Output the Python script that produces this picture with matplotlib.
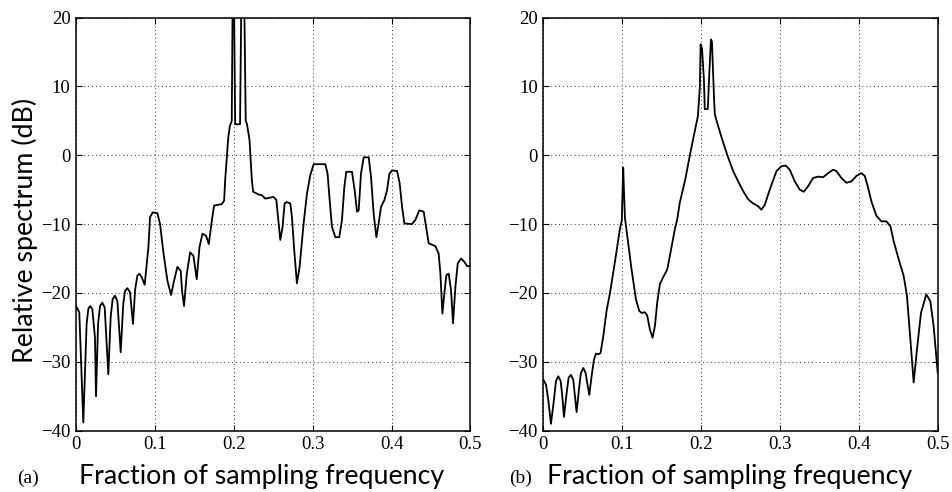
import matplotlib
matplotlib.use("Agg")
import matplotlib.pyplot as plt

# panel (a) spectrum (peaks at 0.2 / 0.21 clipped above 20 dB)
freq_a = [0.0, 0.0042, 0.0093, 0.0135, 0.0157, 0.0178, 0.0207, 0.0241, 0.0254, 0.028,
          0.0305, 0.0334, 0.0364, 0.041, 0.044, 0.0465, 0.0495, 0.0525, 0.0567, 0.060,
          0.0622, 0.0651, 0.0685, 0.0723, 0.075, 0.0778, 0.0804, 0.0833, 0.0871, 0.0918,
          0.0939, 0.0973, 0.1032, 0.1066, 0.1108, 0.1159, 0.1206, 0.1244, 0.1286, 0.1328,
          0.1345, 0.137, 0.1404, 0.1447, 0.1489, 0.151, 0.1531, 0.1565, 0.1603, 0.165,
          0.1684, 0.1722, 0.1751, 0.1849, 0.1878, 0.1891, 0.193, 0.195, 0.1975, 0.1985,
          0.2005, 0.2018, 0.208, 0.2095, 0.2135, 0.2152, 0.2166, 0.2187, 0.22, 0.223,
          0.2246, 0.2315, 0.2357, 0.24, 0.2442, 0.2505, 0.254, 0.2569, 0.259, 0.2619,
          0.2645, 0.2674, 0.2717, 0.2738, 0.2767, 0.2801, 0.2835, 0.2886, 0.2928, 0.297,
          0.3013, 0.3161, 0.319, 0.3216, 0.3245, 0.3288, 0.3338, 0.3372, 0.3402, 0.3427,
          0.3499, 0.3533, 0.3563, 0.3584, 0.3613, 0.3647, 0.3711, 0.374, 0.3774, 0.3808,
          0.3837, 0.3867, 0.391, 0.3943, 0.3973, 0.4007, 0.4071, 0.4104, 0.4134, 0.4163,
          0.426, 0.4302, 0.4353, 0.4408, 0.4438, 0.4472, 0.4556, 0.4598, 0.462, 0.4645,
          0.4674, 0.4696, 0.4725, 0.4755, 0.478, 0.481, 0.484, 0.4882, 0.4925, 0.4958, 0.5]
spec_a = [-21.9, -22.8, -38.8, -24.5, -22.3, -21.9, -22.3, -26.5, -35.0, -24.5,
          -21.9, -21.4, -22.1, -31.8, -23.5, -20.9, -20.4, -21.2, -28.6, -21.5,
          -19.7, -19.3, -19.9, -24.5, -19.5, -17.5, -17.2, -17.7, -18.8, -13.4,
          -9.0, -8.3, -8.4, -10.0, -14.1, -18.2, -20.3, -18.2, -16.2, -16.8,
          -19.7, -21.9, -17.3, -14.1, -14.6, -16.3, -18.0, -13.4, -11.4, -11.7,
          -12.9, -9.5, -7.3, -7.1, -6.6, -3.7, 2.5, 4.2, 5.0, 21.0,
          21.0, 4.5, 4.5, 21.0, 21.0, 5.0, 4.6, 3.2, 2.2, -3.6,
          -5.3, -5.7, -5.8, -6.3, -6.2, -6.05, -6.5, -9.9, -12.3, -10.4,
          -7.0, -6.8, -7.0, -9.0, -13.8, -18.6, -16.2, -9.9, -5.6, -2.9,
          -1.3, -1.3, -2.7, -6.5, -10.4, -11.9, -11.9, -9.4, -4.6, -2.4,
          -2.4, -5.1, -8.2, -8.0, -2.7, -0.3, -0.3, -3.1, -8.5, -11.9,
          -9.9, -7.5, -6.5, -5.1, -2.7, -2.2, -2.3, -4.1, -7.5, -9.9,
          -10.0, -9.4, -8.0, -8.2, -10.4, -12.8, -13.2, -14.3, -17.2, -23.0,
          -19.6, -17.4, -17.2, -19.6, -24.4, -19.1, -15.7, -15.0, -15.5, -16.1, -16.1]

# panel (b) spectrum
freq_b = [0.0, 0.0034, 0.0063, 0.0097, 0.0135, 0.016, 0.019, 0.022, 0.0241, 0.0262,
          0.0296, 0.0321, 0.035, 0.038, 0.0401, 0.0422, 0.0452, 0.0477, 0.0507, 0.0536,
          0.0557, 0.0583, 0.0612, 0.0642, 0.0667, 0.070, 0.0726, 0.076, 0.0802, 0.0845,
          0.0887, 0.0929, 0.0971, 0.0995, 0.1005, 0.1013, 0.1022, 0.1035, 0.1064, 0.1119,
          0.1174, 0.1216, 0.1246, 0.1288, 0.1318, 0.1351, 0.1385, 0.1415, 0.1444, 0.1478,
          0.1529, 0.1571, 0.1613, 0.1668, 0.1698, 0.173, 0.18, 0.1858, 0.192, 0.196,
          0.1985, 0.1994, 0.2012, 0.2036, 0.2047, 0.2085, 0.2105, 0.2125, 0.2138, 0.2165,
          0.2175, 0.2217, 0.2281, 0.2344, 0.2407, 0.247, 0.2533, 0.2597, 0.266, 0.2723,
          0.2765, 0.2808, 0.285, 0.2892, 0.2956, 0.3019, 0.3074, 0.3124, 0.3188, 0.3251,
          0.3302, 0.3357, 0.342, 0.3484, 0.3547, 0.361, 0.3674, 0.3716, 0.3779, 0.3842,
          0.3906, 0.3969, 0.4033, 0.4075, 0.4117, 0.4159, 0.4223, 0.4286, 0.435, 0.44,
          0.4442, 0.4505, 0.4568, 0.461, 0.4653, 0.4695, 0.4737, 0.4788, 0.4855, 0.4906,
          0.4948, 0.5]
spec_b = [-32.6, -33.3, -35.5, -39.0, -35.5, -32.8, -32.1, -32.8, -35.0, -38.0,
          -34.5, -32.3, -31.9, -32.6, -35.0, -37.3, -34.0, -31.6, -30.9, -31.6,
          -33.1, -34.8, -32.1, -29.7, -28.8, -28.9, -28.7, -26.3, -22.6, -20.0,
          -17.0, -13.9, -10.7, -9.5, -5.0, -1.8, -5.0, -9.1, -11.7, -16.6,
          -20.9, -22.6, -22.9, -22.8, -23.3, -25.3, -26.5, -24.8, -21.4, -18.7,
          -17.5, -16.6, -14.1, -10.7, -9.3, -6.9, -3.5, 0.0, 3.5, 5.7,
          10.0, 16.1, 15.5, 11.0, 6.7, 6.7, 12.0, 16.8, 16.5, 8.0,
          5.9, 4.2, 1.8, -0.35, -2.3, -3.8, -5.2, -6.4, -7.0, -7.4,
          -7.9, -7.2, -5.7, -4.3, -2.3, -1.6, -1.5, -2.1, -3.8, -5.0,
          -5.3, -4.5, -3.3, -3.1, -3.2, -2.6, -2.1, -2.3, -3.3, -4.0,
          -3.8, -3.0, -2.6, -3.0, -4.7, -6.7, -8.8, -9.6, -9.6, -10.3,
          -12.5, -15.1, -17.5, -20.4, -26.7, -33.0, -28.2, -22.9, -20.2, -21.2,
          -24.8, -31.6]

panels = [("(a)", freq_a, spec_a), ("(b)", freq_b, spec_b)]
x_ticks = [0, 0.1, 0.2, 0.3, 0.4, 0.5]
x_tick_labels = ["0", "0.1", "0.2", "0.3", "0.4", "0.5"]
y_ticks = [-40, -30, -20, -10, 0, 10, 20]

fig = plt.figure(figsize=(9.52, 4.92), dpi=100)
lefts = [0.0798, 0.5707]
xlabel_centers = [262 / 952, 730 / 952]
tag_lefts = [17 / 952, 509 / 952]

for (tag, f, s), left, xc, tl in zip(panels, lefts, xlabel_centers, tag_lefts):
    ax = fig.add_axes([left, 0.1246, 0.4143, 0.8398])
    ax.plot(f, s, color="black", lw=1.3, solid_joinstyle="round")
    ax.set_xlim(0, 0.5)
    ax.set_ylim(-40, 20)
    ax.set_xticks(x_ticks)
    ax.set_xticklabels(x_tick_labels)
    ax.set_yticks(y_ticks)
    ax.grid(True, linestyle=(0, (1, 3)), color="#333333", lw=0.7)
    ax.tick_params(direction="in", top=True, right=True, length=4, width=0.8,
                   labelsize=13.5, pad=4)
    for lab in ax.get_xticklabels() + ax.get_yticklabels():
        lab.set_family("Liberation Serif")
    for sp in ax.spines.values():
        sp.set_linewidth(1.1)
    fig.text(xc, 0.016, "Fraction of sampling frequency", family="Lato",
             fontsize=19.3, ha="center", va="baseline")
    # panel letter at lower left
    fig.text(tl, 0.018, tag, family="Liberation Serif", fontsize=14, va="baseline")

fig.text(25 / 952, 0.5325, "Relative spectrum (dB)", family="Lato", fontsize=19.3,
         rotation=90, ha="center", va="center")

fig.savefig("out.png", dpi=100)
